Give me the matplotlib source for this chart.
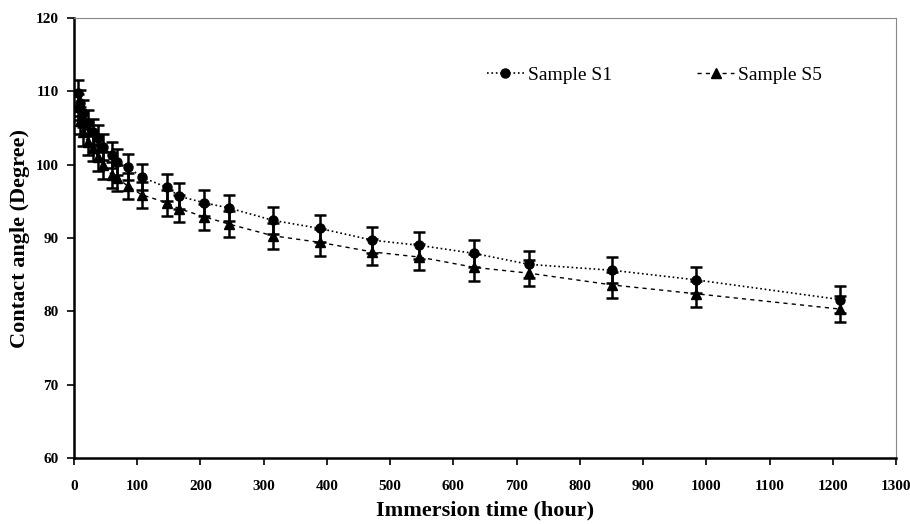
import matplotlib
matplotlib.use("Agg")
import matplotlib.pyplot as plt
from matplotlib.lines import Line2D

hours = [6, 9, 14, 22, 30, 38, 46, 60, 68, 85, 107, 147, 166, 206, 245, 315, 389, 472, 546, 633, 720, 851, 983, 1212]
s1 = [109.8, 108.4, 107.0, 105.7, 104.4, 103.6, 102.4, 101.3, 100.4, 99.7, 98.3, 96.9, 95.7, 94.8, 94.1, 92.4, 91.3, 89.7, 89.0, 87.9, 86.4, 85.6, 84.3, 81.6]
s5 = [107.9, 106.0, 104.4, 103.1, 102.3, 101.0, 99.9, 98.6, 98.2, 97.1, 95.9, 94.8, 94.0, 92.9, 91.9, 90.3, 89.4, 88.1, 87.4, 86.0, 85.2, 83.6, 82.4, 80.3]
s1_err = [1.8] * len(hours)
s5_err = [1.8] * len(hours)

x_ticks = list(range(0, 1301, 100))
y_ticks = list(range(60, 121, 10))

plt.rcParams['font.family'] = ['Liberation Serif', 'DejaVu Serif']

fig = plt.figure(figsize=(9.1, 5.24), dpi=100)
ax = fig.add_axes([0.0813, 0.126, 0.9033, 0.8396])

s1_style = dict(color='black', linestyle=':', linewidth=1.2, marker='o', markersize=6.5)
s5_style = dict(color='black', linestyle=(0, (3, 3)), linewidth=1.0, marker='^', markersize=7)

ax.errorbar(hours, s1, yerr=s1_err, capsize=4, elinewidth=1.8, capthick=1.8, **s1_style)
ax.errorbar(hours, s5, yerr=s5_err, capsize=4, elinewidth=1.8, capthick=1.8, **s5_style)

ax.set_xlim(0, 1300)
ax.set_ylim(60, 120)
ax.set_xticks(x_ticks)
ax.set_yticks(y_ticks)
ax.set_xticklabels([str(v) for v in x_ticks], fontsize=11, fontweight='bold')
ax.set_yticklabels([str(v) for v in y_ticks], fontsize=11, fontweight='bold')
ax.tick_params(axis='x', direction='out', length=5, width=1.2, pad=11)
ax.tick_params(axis='y', direction='out', length=5, width=1.2, pad=6)

for side in ['left', 'bottom']:
    ax.spines[side].set_linewidth(1.8)
    ax.spines[side].set_color('black')
for side in ['top', 'right']:
    ax.spines[side].set_linewidth(0.8)
    ax.spines[side].set_color('#888888')
    ax.spines[side].set_linestyle((0, (2, 1)))

ax.set_xlabel('Immersion time (hour)', fontsize=16, fontweight='bold', labelpad=5)
ax.set_ylabel('Contact angle (Degree)', fontsize=16, fontweight='bold', labelpad=4)

handles = [Line2D([], [], **s1_style), Line2D([], [], **s5_style)]
ax.legend(handles, ['Sample S1', 'Sample S5'], loc='upper left', bbox_to_anchor=(0.481, 0.93),
          ncol=2, frameon=False, fontsize=14, handlelength=1.9, columnspacing=4.4,
          handletextpad=0.2)

fig.savefig('out.png', dpi=100)
